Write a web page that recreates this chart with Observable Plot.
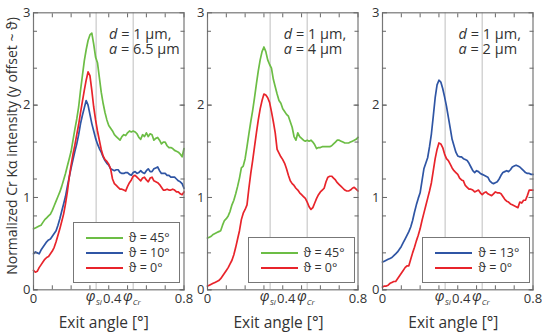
<!DOCTYPE html>
<html>
<head>
<meta charset="utf-8">
<script src="https://cdn.jsdelivr.net/npm/d3@7"></script>
<script src="https://cdn.jsdelivr.net/npm/@observablehq/plot@0.6"></script>
<style>
  body { margin: 0; background: #fff; }
  #chart { position: relative; width: 542px; height: 335px; overflow: hidden; font-family: "Open Sans", sans-serif; color: #333; }
  .panel { position: absolute; top: 0; }
  .panel svg { overflow: visible; }
  .note { position: absolute; font-size: 14.5px; line-height: 15px; height: 15px; white-space: nowrap; }
  .legend { position: absolute; background: #fff; border: 1px solid #777; box-sizing: border-box; }
  .legend .row { position: absolute; height: 15px; font-size: 12.5px; line-height: 15px; white-space: nowrap; }
  .legend .swatch { position: absolute; top: 6.5px; height: 2px; }
  .xtitle { position: absolute; font-size: 15.5px; line-height: 18px; white-space: nowrap; transform: translateX(-50%); }
  .ytitle { position: absolute; font-size: 14px; line-height: 18px; white-space: nowrap; transform-origin: 0 0; transform: rotate(-90deg) translateX(-50%); }
</style>
</head>
<body>
<div id="chart"></div>
<script>
// Exit angle grid (degrees), shared by every curve
const exitAngle = d3.range(81).map(i => i / 100);

// Critical angles of Si and Cr
const phiSi = 0.333;
const phiCr = 0.53;

// d = 1 µm, a = 6.5 µm
const g1 = [0.66,0.67,0.68,0.69,0.70,0.73,0.76,0.78,0.80,0.82,0.86,0.91,0.96,1.01,1.06,1.12,1.19,1.26,1.34,1.42,
  1.50,1.62,1.74,1.85,1.98,2.16,2.32,2.48,2.60,2.70,2.76,2.78,2.66,2.52,2.46,2.30,2.14,2.02,1.92,1.84,
  1.78,1.75,1.72,1.68,1.66,1.64,1.62,1.66,1.68,1.67,1.70,1.72,1.71,1.72,1.71,1.69,1.65,1.63,1.68,1.66,
  1.70,1.66,1.69,1.68,1.62,1.64,1.65,1.62,1.58,1.60,1.60,1.56,1.54,1.54,1.53,1.51,1.50,1.49,1.47,1.44,1.53];
const b1 = [0.39,0.41,0.40,0.39,0.43,0.46,0.49,0.52,0.54,0.55,0.58,0.61,0.64,0.70,0.77,0.85,0.93,1.01,1.12,1.22,
  1.32,1.41,1.50,1.58,1.68,1.80,1.89,1.97,2.05,2.00,1.90,1.80,1.72,1.64,1.58,1.53,1.49,1.44,1.40,1.37,
  1.35,1.31,1.30,1.29,1.30,1.30,1.27,1.26,1.26,1.27,1.27,1.25,1.24,1.27,1.28,1.26,1.27,1.29,1.27,1.26,
  1.29,1.31,1.28,1.28,1.31,1.32,1.33,1.29,1.26,1.26,1.26,1.24,1.24,1.22,1.22,1.22,1.20,1.18,1.17,1.15,1.10];
const r1 = [0.21,0.19,0.20,0.24,0.27,0.30,0.33,0.35,0.36,0.39,0.42,0.46,0.52,0.59,0.66,0.74,0.82,0.93,1.06,1.22,
  1.35,1.47,1.57,1.68,1.79,1.92,2.04,2.16,2.27,2.36,2.32,2.16,1.98,1.84,1.72,1.62,1.52,1.45,1.41,1.39,
  1.36,1.31,1.20,1.15,1.13,1.11,1.09,1.09,1.08,1.07,1.12,1.16,1.19,1.23,1.24,1.22,1.20,1.18,1.21,1.22,
  1.19,1.17,1.21,1.22,1.18,1.17,1.16,1.14,1.11,1.08,1.08,1.09,1.08,1.08,1.09,1.08,1.06,1.06,1.04,1.03,1.06];

// d = 1 µm, a = 4 µm
const g2 = [0.56,0.57,0.58,0.60,0.61,0.62,0.63,0.64,0.70,0.75,0.77,0.80,0.85,0.92,0.97,1.04,1.12,1.21,1.32,1.34,
  1.42,1.55,1.69,1.82,1.94,2.08,2.23,2.37,2.49,2.58,2.63,2.58,2.49,2.44,2.40,2.28,2.20,2.12,2.05,2.02,
  1.96,1.93,1.90,1.88,1.82,1.76,1.66,1.62,1.70,1.66,1.64,1.62,1.61,1.62,1.61,1.62,1.60,1.57,1.53,1.54,
  1.54,1.55,1.55,1.55,1.55,1.55,1.56,1.58,1.60,1.62,1.62,1.61,1.60,1.59,1.59,1.59,1.60,1.61,1.62,1.63,1.65];
const r2 = [0.04,0.05,0.06,0.07,0.08,0.09,0.10,0.12,0.15,0.18,0.21,0.24,0.28,0.32,0.38,0.46,0.55,0.64,0.76,0.83,
  0.87,0.92,1.10,1.26,1.40,1.55,1.70,1.84,1.96,2.05,2.12,2.11,2.08,2.03,1.93,1.82,1.70,1.52,1.48,1.44,
  1.41,1.37,1.31,1.24,1.18,1.15,1.13,1.10,1.08,1.05,1.03,1.01,0.99,0.95,0.90,0.87,0.89,0.94,0.99,1.03,
  1.06,1.08,1.10,1.17,1.22,1.23,1.23,1.21,1.19,1.16,1.14,1.12,1.10,1.08,1.07,1.07,1.08,1.10,1.11,1.09,1.07];

// d = 1 µm, a = 2 µm
const b3 = [0.30,0.31,0.32,0.33,0.34,0.35,0.37,0.39,0.41,0.44,0.47,0.51,0.55,0.59,0.63,0.68,0.75,0.84,0.92,0.99,
  1.05,1.18,1.31,1.37,1.43,1.55,1.69,1.88,2.08,2.22,2.27,2.25,2.18,2.09,1.99,1.87,1.75,1.63,1.56,1.49,
  1.45,1.44,1.44,1.42,1.41,1.40,1.37,1.33,1.29,1.27,1.29,1.28,1.26,1.25,1.24,1.23,1.22,1.18,1.16,1.15,
  1.16,1.17,1.20,1.24,1.27,1.28,1.29,1.28,1.30,1.33,1.34,1.35,1.34,1.33,1.31,1.29,1.27,1.26,1.26,1.25,1.25];
const r3 = [0.03,0.04,0.04,0.05,0.07,0.08,0.09,0.09,0.12,0.15,0.18,0.21,0.24,0.26,0.26,0.33,0.40,0.46,0.53,0.59,
  0.66,0.75,0.83,0.91,0.99,1.07,1.16,1.29,1.42,1.52,1.59,1.58,1.54,1.47,1.42,1.40,1.36,1.32,1.29,1.27,
  1.25,1.21,1.19,1.18,1.13,1.11,1.09,1.09,1.08,1.06,1.07,1.08,1.05,1.03,1.05,1.06,1.04,1.03,1.02,1.04,
  1.06,1.05,1.05,1.04,1.01,0.98,0.96,0.95,0.93,0.92,0.91,0.90,0.89,0.95,0.94,0.97,0.97,1.02,1.08,1.08,1.08];

// Panel annotations and legend entries
const layerD = ["1", "1", "1"];
const spacingA = ["6.5", "4", "2"];
const thetaLabels = [["45", "10", "0"], ["45", "0"], ["13", "0"]];

// Axis ticks
const xMinorTicks = d3.range(0, 0.81, 0.1);
const xEndLabels = [0, 0.8];
const xMidLabels = [0.4];
const yMinorTicks = d3.range(0, 3, 0.4);
const yTickLabels = [0, 1, 2, 3];

const green = "#6cbd45", blue = "#2f55a4", red = "#e8242b";
const panelSeries = [
  [{values: g1, color: green}, {values: b1, color: blue}, {values: r1, color: red}],
  [{values: g2, color: green}, {values: r2, color: red}],
  [{values: b3, color: blue}, {values: r3, color: red}]
];

// Geometry of the three panels (px)
const plotW = 150.5, mL = 33, mR = 12, mT = 12.3, mB = 45.7, H = 335;
const plotLefts = [32.5, 207.3, 382.1];

const chart = document.getElementById("chart");
const fmt = d => String(d);

panelSeries.forEach((series, i) => {
  const phiLabels = [{at: phiSi, sub: "Si"}, {at: phiCr, sub: "Cr"}];
  const marks = [
    Plot.ruleX([phiSi, phiCr], {stroke: "#cdcdcd", strokeWidth: 1.3}),
    ...series.map(s => Plot.line(s.values.map((v, j) => ({angle: exitAngle[j], value: v})),
      {x: "angle", y: "value", stroke: s.color, strokeWidth: 1.7, strokeLinejoin: "round"})),
    Plot.frame({stroke: "#777", strokeWidth: 1.2}),
    Plot.axisX(xMinorTicks, {anchor: "bottom", tickSize: -4, fill: "none", label: null, stroke: "#666"}),
    Plot.axisX(xMinorTicks, {anchor: "top", tickSize: -4, fill: "none", label: null, stroke: "#666"}),
    Plot.axisY(yMinorTicks, {anchor: "left", tickSize: -4, fill: "none", label: null, stroke: "#666"}),
    Plot.axisY(yMinorTicks, {anchor: "right", tickSize: -4, fill: "none", label: null, stroke: "#666"}),
    Plot.axisY(yTickLabels, {anchor: "left", tickSize: -5, fill: "none", label: null, stroke: "#666"}),
    Plot.axisY(yTickLabels, {anchor: "right", tickSize: -5, fill: "none", label: null, stroke: "#666"}),
    Plot.axisX(xEndLabels, {anchor: "bottom", tickSize: 0, tickPadding: 4, label: null, fill: "#333", fontSize: 13, tickFormat: fmt}),
    Plot.axisX(xMidLabels, {anchor: "bottom", tickSize: 0, tickPadding: 4, dx: 3.5, label: null, fill: "#333", fontSize: 13, tickFormat: fmt}),
    Plot.axisY(yTickLabels, {anchor: "left", tickSize: 0, tickPadding: 3, label: null, fill: "#333", fontSize: 13, tickFormat: fmt}),
    Plot.text(phiLabels, {x: "at", text: () => "φ", frameAnchor: "bottom", dy: 11, dx: -0.5, textAnchor: "end",
      fontStyle: "italic", fontSize: 14.5, fill: "#333"}),
    Plot.text(phiLabels, {x: "at", text: "sub", frameAnchor: "bottom", dy: 15.5, dx: -0.5, textAnchor: "start",
      fontStyle: "italic", fontSize: 8, fill: "#333"})
  ];
  const svg = Plot.plot({
    width: mL + plotW + mR,
    height: H,
    marginLeft: mL, marginRight: mR, marginTop: mT, marginBottom: mB,
    x: {domain: [0, 0.8]},
    y: {domain: [0, 3]},
    style: {background: "transparent", fontFamily: "Open Sans, sans-serif", fontSize: "13px", color: "#333", overflow: "visible"},
    marks
  });
  const wrap = document.createElement("div");
  wrap.className = "panel";
  wrap.style.left = (plotLefts[i] - mL) + "px";
  wrap.style.width = (mL + plotW + mR) + "px";
  wrap.appendChild(svg);
  chart.appendChild(wrap);

  const left = plotLefts[i];
  const right = left + plotW;
  const bottom = mT + (H - mT - mB);

  // Sample geometry annotation, one line per parameter
  [`<i>d</i> = ${layerD[i]} µm,`, `<i>a</i> = ${spacingA[i]} µm`].forEach((html, k) => {
    const note = document.createElement("div");
    note.className = "note";
    note.style.left = (left + 76.5) + "px";
    note.style.top = (25.5 + 15 * k) + "px";
    note.innerHTML = html;
    chart.appendChild(note);
  });

  // Legend
  const n = series.length;
  const legend = document.createElement("div");
  legend.className = "legend";
  const lw = 107.3, lh = 16 + 15 * (n - 1) + 15.5;
  legend.style.left = (right - 3 - lw) + "px";
  legend.style.top = (bottom - 6 - lh) + "px";
  legend.style.width = lw + "px";
  legend.style.height = lh + "px";
  series.forEach((s, k) => {
    const row = document.createElement("div");
    row.className = "row";
    row.style.left = "12px";
    row.style.top = (16 - 7.5 + 15 * k - 1) + "px";
    row.innerHTML = `<span class="swatch" style="left:0;width:37px;background:${s.color}"></span>` +
      `<span style="position:absolute;left:43px">ϑ = ${thetaLabels[i][k]}°</span>`;
    legend.appendChild(row);
  });
  chart.appendChild(legend);

  // x-axis title
  const xt = document.createElement("div");
  xt.className = "xtitle";
  xt.style.left = (left + plotW / 2 - 4) + "px";
  xt.style.top = "313px";
  xt.textContent = "Exit angle [°]";
  chart.appendChild(xt);
});

// y-axis title
const yt = document.createElement("div");
yt.className = "ytitle";
yt.style.left = "3px";
yt.style.top = "146px";
yt.textContent = "Normalized Cr Kα intensity (y offset ~ ϑ)";
chart.appendChild(yt);
</script>
</body>
</html>
